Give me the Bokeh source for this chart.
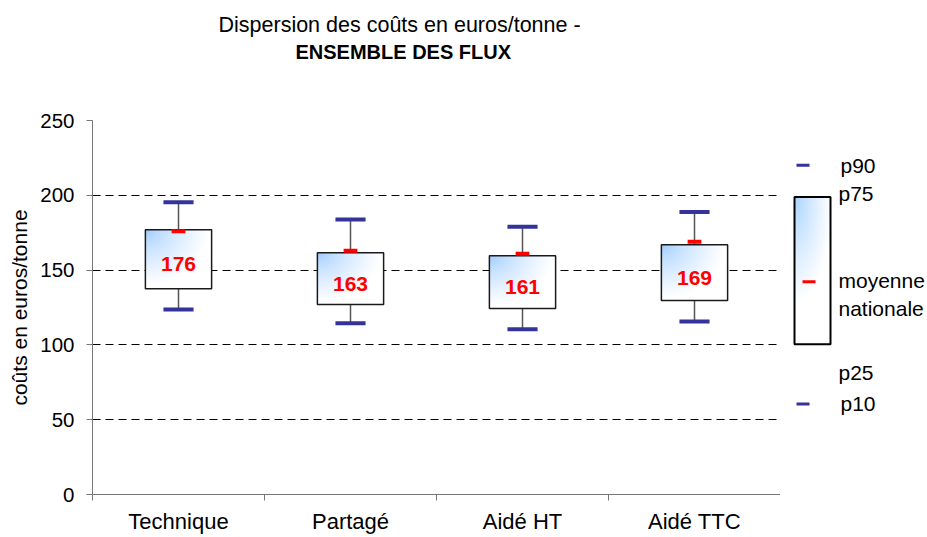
import numpy as np
from bokeh.plotting import figure
from bokeh.models import Range1d, FixedTicker, Title, ColumnDataSource
from bokeh.layouts import row
from bokeh.embed import file_html
from bokeh.resources import INLINE
from bokeh.core.properties import value

# ---------------- data ----------------
categories = ["Technique", "Partagé", "Aidé HT", "Aidé TTC"]
p10 = [123.7, 114.4, 110.4, 115.7]
p25 = [137.6, 127.0, 124.3, 129.7]
p75 = [177.0, 161.6, 159.6, 166.9]
p90 = [195.3, 183.8, 179.0, 188.8]
moyenne = [176, 163, 161, 169]
y_ticks = [0, 50, 100, 150, 200, 250]
legend_labels = ["p90", "p75", "moyenne", "nationale", "p25", "p10"]

FONT = "Liberation Sans"
NAVY = "#333399"
RED = "#ff0000"

# ---------------- helpers ----------------
def gradient(nx, ny, sx=1.0, sy=1.0, blue=(160, 205, 255), gamma=0.65):
    u = np.linspace(0, 1, nx)[None, :]
    v = np.linspace(1, 0, ny)[:, None]   # row 0 = bottom; v = distance from top
    d = np.sqrt((u / sx) ** 2 + (v / sy) ** 2)
    t = np.clip(d / 0.95, 0, 1) ** gamma
    img = np.empty((ny, nx), dtype=np.uint32)
    view = img.view(dtype=np.uint8).reshape((ny, nx, 4))
    for k in range(3):
        view[:, :, k] = (blue[k] + (255 - blue[k]) * t).astype(np.uint8)
    view[:, :, 3] = 255
    return img

# ---------------- main figure ----------------
n = len(categories)
xc = [i + 0.5 for i in range(n)]
box_w = 0.385
cap_w = 0.175
mean_w = 0.08

src = ColumnDataSource(dict(
    x=xc, cat=categories, p10=p10, p25=p25, p75=p75, p90=p90, moy=moyenne,
    left=[c - box_w / 2 for c in xc], right=[c + box_w / 2 for c in xc],
    cl=[c - cap_w / 2 for c in xc], cr=[c + cap_w / 2 for c in xc],
    ml=[c - mean_w / 2 for c in xc], mr=[c + mean_w / 2 for c in xc],
    mid=[(a + b) / 2 for a, b in zip(p25, p75)],
    lbl=[str(m) for m in moyenne],
))

p = figure(width=780, height=536, x_range=Range1d(0, n), y_range=Range1d(0, 250),
           output_backend="svg", toolbar_location=None, title=None,
           min_border_left=92, min_border_right=0, min_border_top=120, min_border_bottom=40)
p.outline_line_color = None
p.background_fill_color = "white"
p.border_fill_color = "white"

# titles: innermost first (spacer, line 2, line 1)
p.add_layout(Title(text=" ", standoff=44, text_font=FONT, text_font_size="10px"), "above")
p.add_layout(Title(text="ENSEMBLE DES FLUX", align="left", offset=203, standoff=0,
                   vertical_align="middle",
                   text_font=FONT, text_font_size="20px", text_font_style="bold",
                   text_color="black"), "above")
p.add_layout(Title(text="Dispersion des coûts en euros/tonne -", align="left", offset=126,
                   standoff=4, vertical_align="middle", text_font=FONT,
                   text_font_size="21.5px", text_font_style="normal",
                   text_color="black"), "above")

# axes
yax = p.yaxis[0]
yax.ticker = FixedTicker(ticks=y_ticks)
yax.axis_line_color = "#777777"
yax.major_tick_line_color = "#777777"
yax.major_tick_out = 6
yax.major_tick_in = 0
yax.minor_tick_line_color = None
yax.major_label_text_font = FONT
yax.major_label_text_font_size = "20.5px"
yax.major_label_text_color = "black"
yax.major_label_standoff = 12
yax.axis_label = "coûts en euros/tonne"
yax.axis_label_text_font = FONT
yax.axis_label_text_font_size = "21px"
yax.axis_label_text_font_style = "normal"
yax.axis_label_text_color = "black"
yax.axis_label_standoff = 6

xax = p.xaxis[0]
xax.ticker = FixedTicker(ticks=xc, minor_ticks=list(range(n + 1)))
xax.major_label_overrides = {c: lab for c, lab in zip(xc, categories)}
xax.axis_line_color = "#777777"
xax.major_tick_line_color = None
xax.major_tick_out = 0
xax.major_tick_in = 0
xax.minor_tick_line_color = "#777777"
xax.minor_tick_out = 6
xax.minor_tick_in = 0
xax.major_label_text_font = FONT
xax.major_label_text_font_size = "22px"
xax.major_label_text_color = "black"
xax.major_label_standoff = 8

p.xgrid.visible = False
p.ygrid.ticker = FixedTicker(ticks=y_ticks)
p.ygrid.grid_line_color = "black"
p.ygrid.grid_line_dash = "8 5"
p.ygrid.grid_line_width = 1

# whiskers
p.segment(x0="x", y0="p75", x1="x", y1="p90", source=src, line_color="#555555", line_width=1.5)
p.segment(x0="x", y0="p10", x1="x", y1="p25", source=src, line_color="#555555", line_width=1.5)

# boxes with gradient fill
grad = gradient(80, 80, blue=(150, 200, 255))
for i in range(n):
    p.image_rgba(image=[grad], x=src.data["left"][i], y=p25[i],
                 dw=box_w, dh=p75[i] - p25[i])
p.quad(left="left", right="right", bottom="p25", top="p75", source=src,
       fill_color=None, line_color="#1a1a1a", line_width=1.5)

# caps (p10 / p90)
p.segment(x0="cl", y0="p90", x1="cr", y1="p90", source=src, line_color=NAVY, line_width=4)
p.segment(x0="cl", y0="p10", x1="cr", y1="p10", source=src, line_color=NAVY, line_width=4)

# mean markers
p.segment(x0="ml", y0="moy", x1="mr", y1="moy", source=src, line_color=RED, line_width=4)

# mean labels
p.text(x="x", y="mid", text="lbl", source=src, text_align="center", text_baseline="middle",
       y_offset=5, text_font=value(FONT), text_font_size="21px", text_font_style="bold",
       text_color=RED)

# ---------------- legend figure (page-pixel coordinates) ----------------
# the row aligns this frame with the main frame (page y 120 .. 496)
lg = figure(width=146, height=536, x_range=Range1d(780, 926), y_range=Range1d(120, 496),
            output_backend="svg", toolbar_location=None, title=None,
            x_axis_location=None, y_axis_location=None,
            min_border_left=0, min_border_right=0, min_border_top=120, min_border_bottom=40)
lg.outline_line_color = None
lg.xgrid.visible = False
lg.ygrid.visible = False
lg.background_fill_color = "white"
lg.border_fill_color = "white"

def py(v):
    return 616 - v

lg.image_rgba(image=[gradient(40, 120, sx=1.1, sy=0.75, blue=(165, 210, 255), gamma=0.8)],
              x=794, y=py(345), dw=36, dh=345 - 197)
lg.quad(left=[794], right=[830], bottom=[py(345)], top=[py(197)],
        fill_color=None, line_color="black", line_width=2)
lg.segment(x0=[796, 796], y0=[py(165), py(405)], x1=[809, 809], y1=[py(165), py(405)],
           line_color=NAVY, line_width=3)
lg.segment(x0=[802], y0=[py(282)], x1=[815], y1=[py(282)], line_color=RED, line_width=3)
lg.text(x=[840, 838, 838, 838, 838, 840],
        y=[py(165), py(193), py(281), py(309), py(373), py(405)],
        text=legend_labels, text_align="left", text_baseline="middle",
        text_font=value(FONT), text_font_size="21px", text_color="black")

layout = row(p, lg)
open("out.html", "w").write(file_html(layout, INLINE))
